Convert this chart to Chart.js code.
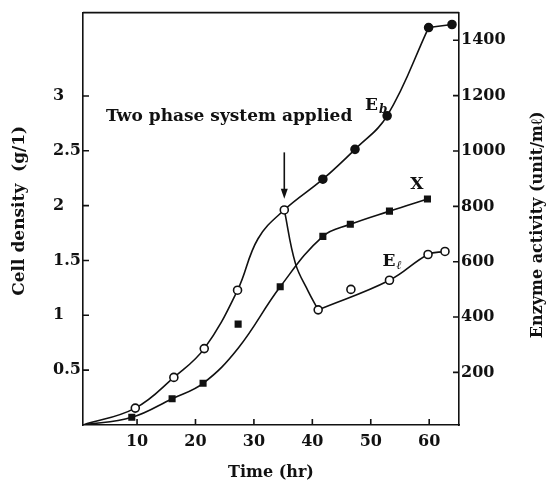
<!DOCTYPE html>
<html>
<head>
<meta charset="utf-8">
<script src="https://cdn.jsdelivr.net/npm/chart.js@4.4.0/dist/chart.umd.min.js"></script>
<style>
  html, body { margin: 0; padding: 0; background: #fff; }
  #wrap { width: 547px; height: 484px; position: relative; }
</style>
</head>
<body>
<div id="wrap"><canvas id="chart"></canvas></div>
<script>
const timeEb = [9.7, 16.3, 21.5, 27.2, 35.2, 41.8, 47.3, 52.8, 59.9, 63.9];
const enzymeBound = [71, 182, 286, 497, 787, 898, 1006, 1127, 1446, 1457];
const timeX = [9.1, 16.0, 21.3, 27.3, 34.5, 41.8, 46.5, 53.2, 59.7];
const cellDensity = [0.07, 0.24, 0.38, 0.92, 1.26, 1.72, 1.83, 1.95, 2.06];
const timeEl = [41.0, 46.6, 53.2, 59.8, 62.7];
const enzymeLiquid = [426, 500, 533, 626, 637];

// Hand drawn fitted curves, knots
const curveEbT = [0.75, 9.7, 16.3, 21.5, 27.2, 30.7, 35.2, 41.8, 47.3, 52.8, 59.9];
const curveEb = [10, 71, 182, 286, 497, 683, 787, 898, 1006, 1127, 1446];
const curveEbTailT = [59.9, 63.9];
const curveEbTail = [1446, 1457];
const curveXT = [0.75, 9.1, 16.0, 21.3, 27.3, 34.5, 41.8, 46.5, 53.2, 59.7];
const curveX = [0, 0.07, 0.24, 0.38, 0.70, 1.26, 1.72, 1.83, 1.95, 2.06];
const curveElFallT = [35.2, 37.1, 39.3, 41.0];
const curveElFall = [787, 594, 493, 426];
const curveElRiseT = [41.0, 53.2, 59.8, 62.7];
const curveElRise = [426, 533, 626, 637];

// Tick labels
const xTicks = [10, 20, 30, 40, 50, 60];
const cellTicks = [0.5, 1, 1.5, 2, 2.5, 3];
const enzymeTicks = [200, 400, 600, 800, 1000, 1200, 1400];

const phaseTime = 35.2; // two phase system applied here

const ink = '#111';
const serif = '"DejaVu Serif", "Liberation Serif", serif';
const tickFont = { family: serif, size: 16, weight: 'bold' };

function pts(xs, ys) {
    return xs.map((x, i) => ({ x: x, y: ys[i] }));
}

function curve(label, xs, ys, axis) {
    return {
        label: label,
        data: pts(xs, ys),
        yAxisID: axis,
        showLine: true,
        pointRadius: 0,
        pointHoverRadius: 0,
        borderColor: ink,
        borderWidth: 1.6,
        tension: 0.4,
        fill: false,
        order: 2
    };
}

const datasets = [
    curve('Eb fit', curveEbT, curveEb, 'yR'),
    curve('Eb fit tail', curveEbTailT, curveEbTail, 'yR'),
    curve('X fit', curveXT, curveX, 'yL'),
    curve('El fit a', curveElFallT, curveElFall, 'yR'),
    curve('El fit b', curveElRiseT, curveElRise, 'yR'),
    {
        label: 'Eb',
        data: pts(timeEb, enzymeBound),
        yAxisID: 'yR',
        pointStyle: 'circle',
        pointRadius: 4,
        pointBorderWidth: 1.6,
        pointBorderColor: ink,
        pointBackgroundColor: timeEb.map(t => t <= phaseTime ? '#fff' : ink),
        order: 0
    },
    {
        label: 'X',
        data: pts(timeX, cellDensity),
        yAxisID: 'yL',
        pointStyle: 'rect',
        pointRadius: 5,
        pointBorderWidth: 0,
        pointBackgroundColor: ink,
        order: 0
    },
    {
        label: 'El',
        data: pts(timeEl, enzymeLiquid),
        yAxisID: 'yR',
        pointStyle: 'circle',
        pointRadius: 4,
        pointBorderWidth: 1.6,
        pointBorderColor: ink,
        pointBackgroundColor: '#fff',
        order: 0
    }
];

function setTicks(values) {
    return scale => { scale.ticks = values.map(v => ({ value: v })); };
}

function vText(ctx, text, x, y) {
    ctx.save();
    ctx.translate(x, y);
    ctx.rotate(-Math.PI / 2);
    ctx.textAlign = 'center';
    ctx.textBaseline = 'middle';
    ctx.fillText(text, 0, 0);
    ctx.restore();
}

// E with a small italic subscript
function subLabel(ctx, main, sub, x, y) {
    ctx.font = 'bold 17px ' + serif;
    ctx.textAlign = 'left';
    ctx.fillText(main, x, y);
    const w = ctx.measureText(main).width;
    ctx.font = 'italic bold 12px ' + serif;
    ctx.fillText(sub, x + w + 1, y + 3);
}

const extras = {
    id: 'extras',
    afterDraw(chart) {
        const { ctx, chartArea: a, scales } = chart;
        const sx = scales.x, sl = scales.yL, sr = scales.yR;
        ctx.save();
        ctx.strokeStyle = ink;
        ctx.fillStyle = ink;
        ctx.lineWidth = 1.6;

        // top of the frame
        ctx.beginPath();
        ctx.moveTo(a.left, a.top);
        ctx.lineTo(a.right, a.top);
        ctx.stroke();

        // tick marks point inwards
        ctx.beginPath();
        xTicks.forEach(v => {
            const p = sx.getPixelForValue(v);
            ctx.moveTo(p, a.bottom);
            ctx.lineTo(p, a.bottom - 6);
        });
        cellTicks.forEach(v => {
            const p = sl.getPixelForValue(v);
            ctx.moveTo(a.left, p);
            ctx.lineTo(a.left + 6, p);
        });
        enzymeTicks.forEach(v => {
            const p = sr.getPixelForValue(v);
            ctx.moveTo(a.right, p);
            ctx.lineTo(a.right - 6, p);
        });
        ctx.stroke();

        // vertical axis titles, both read bottom to top
        ctx.font = 'bold 17px ' + serif;
        vText(ctx, 'Cell density  (g/1)', 20, (a.top + a.bottom) / 2 - 8);
        ctx.font = 'bold 16px ' + serif;
        vText(ctx, 'Enzyme activity (unit/m\u2113)', 538, (a.top + a.bottom) / 2 + 6);

        // annotation and arrow
        ctx.font = 'bold 17px ' + serif;
        ctx.textAlign = 'left';
        ctx.textBaseline = 'alphabetic';
        ctx.fillText('Two phase system applied', sx.getPixelForValue(4.7), sr.getPixelForValue(1110));

        const ax = sx.getPixelForValue(phaseTime);
        const y1 = sr.getPixelForValue(995);
        const y2 = sr.getPixelForValue(827);
        ctx.beginPath();
        ctx.moveTo(ax, y1);
        ctx.lineTo(ax, y2 - 4);
        ctx.stroke();
        ctx.beginPath();
        ctx.moveTo(ax - 3.5, y2 - 10);
        ctx.lineTo(ax, y2);
        ctx.lineTo(ax + 3.5, y2 - 10);
        ctx.closePath();
        ctx.fill();

        // curve labels
        subLabel(ctx, 'E', 'b', sx.getPixelForValue(49.0), sr.getPixelForValue(1149));
        subLabel(ctx, 'E', '\u2113', sx.getPixelForValue(52.0), sr.getPixelForValue(583));
        ctx.font = 'bold 17px ' + serif;
        ctx.textAlign = 'center';
        ctx.fillText('X', sx.getPixelForValue(57.9), sl.getPixelForValue(2.15));

        ctx.restore();
    }
};

new Chart(document.getElementById('chart'), {
    type: 'scatter',
    data: { datasets: datasets },
    options: {
        responsive: true,
        maintainAspectRatio: false,
        animation: false,
        layout: { padding: { left: 53, top: 10, right: 0, bottom: 0 } },
        plugins: { legend: { display: false }, tooltip: { enabled: false } },
        scales: {
            x: {
                type: 'linear',
                position: 'bottom',
                min: 0.75,
                max: 65.1,
                afterBuildTicks: setTicks(xTicks),
                afterFit: s => { s.height = 59; },
                grid: { display: false, drawTicks: false },
                border: { display: true, color: ink, width: 1.6 },
                ticks: { color: ink, font: tickFont, padding: 7, maxRotation: 0, autoSkip: false, callback: v => String(v) },
                title: { display: true, text: 'Time (hr)', color: ink, font: tickFont, padding: { top: 0, bottom: 2 } }
            },
            yL: {
                type: 'linear',
                position: 'left',
                min: 0,
                max: 3.76,
                afterBuildTicks: setTicks(cellTicks),
                afterFit: s => { s.width = 30; },
                grid: { display: false, drawTicks: false },
                border: { display: true, color: ink, width: 1.6 },
                ticks: { color: ink, font: tickFont, crossAlign: 'far', padding: 3, autoSkip: false, callback: v => String(v) }
            },
            yR: {
                type: 'linear',
                position: 'right',
                min: 10,
                max: 1500,
                afterBuildTicks: setTicks(enzymeTicks),
                afterFit: s => { s.width = 88; },
                grid: { display: false, drawTicks: false },
                border: { display: true, color: ink, width: 1.6 },
                ticks: { color: ink, font: tickFont, padding: 2, autoSkip: false, callback: v => String(v) }
            }
        }
    },
    plugins: [extras]
});
</script>
</body>
</html>
